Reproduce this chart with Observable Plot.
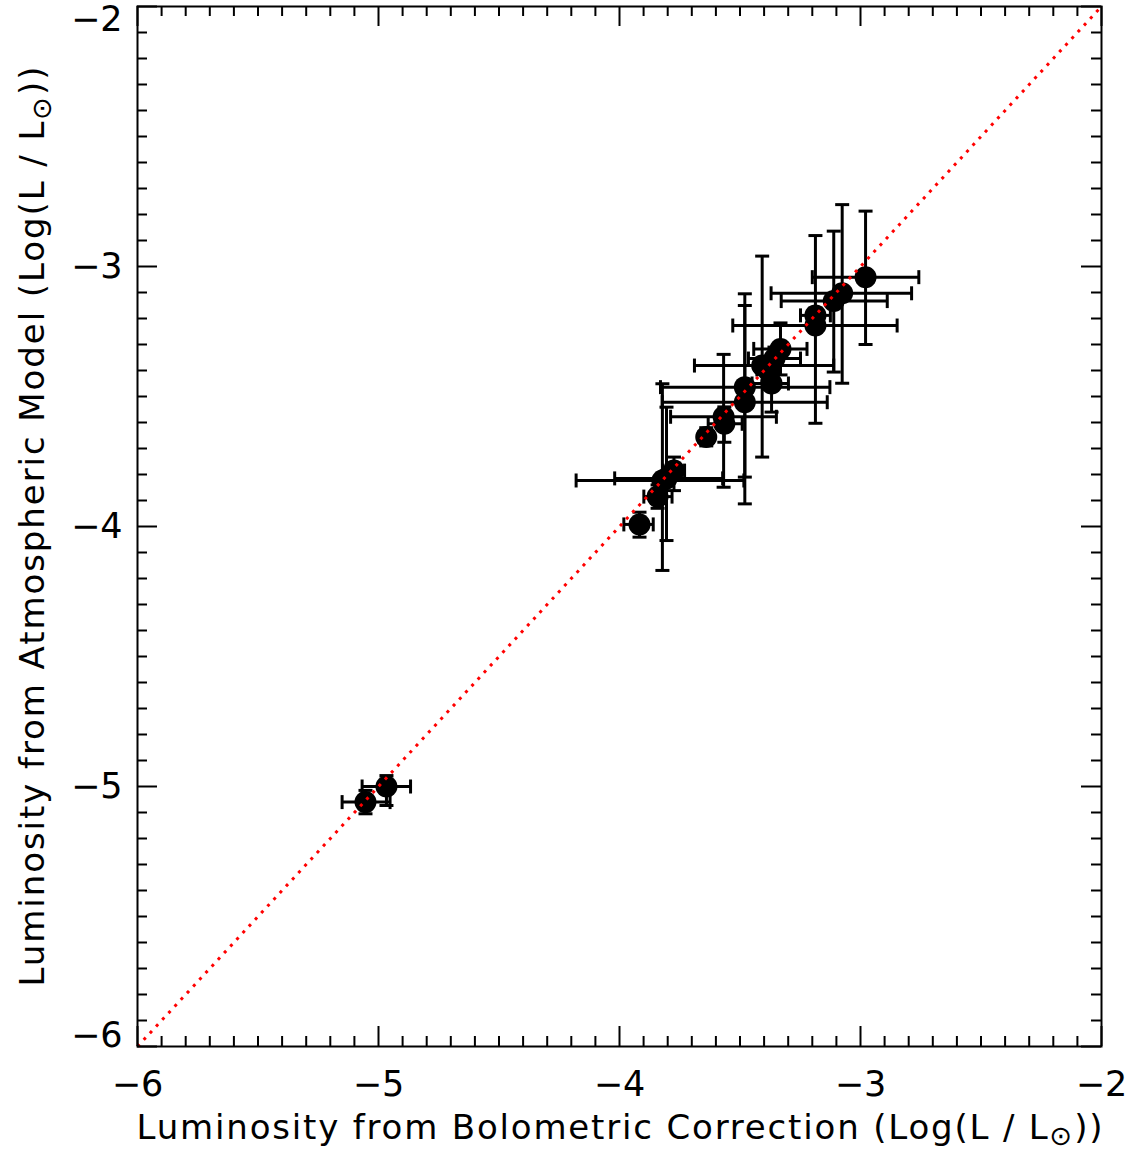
<!DOCTYPE html>
<html>
<head>
<meta charset="utf-8">
<script src="https://cdn.jsdelivr.net/npm/d3@7"></script>
<script src="https://cdn.jsdelivr.net/npm/@observablehq/plot@0.6"></script>
<style>
  html, body { margin: 0; padding: 0; background: #fff; }
  #chart svg { display: block; }
</style>
</head>
<body>
<div id="chart"></div>
<script>
// Luminosity from bolometric correction (x) and from atmospheric model (y), log(L/Lsun)
const bcLum  = [-2.979, -3.076, -3.111, -3.187, -3.187, -3.332, -3.357, -3.386, -3.408, -3.369, -3.480, -3.480, -3.568, -3.565, -3.640, -3.774, -3.822, -3.805, -3.842, -3.917, -4.967, -5.054];
const bcLo   = [-3.200, -3.371, -3.329, -3.249, -3.530, -3.443, -3.465, -3.430, -3.689, -3.450, -3.830, -3.823, -3.788, -3.632, -3.670, -3.820, -4.180, -4.020, -3.899, -3.982, -5.068, -5.151];
const bcHi   = [-2.758, -2.788, -2.889, -3.125, -2.848, -3.222, -3.249, -3.340, -3.111, -3.299, -3.127, -3.138, -3.349, -3.491, -3.610, -3.730, -3.484, -3.572, -3.782, -3.860, -4.867, -4.952];
const atmLum = [-3.041, -3.103, -3.133, -3.188, -3.227, -3.317, -3.354, -3.396, -3.381, -3.450, -3.464, -3.522, -3.578, -3.605, -3.656, -3.785, -3.823, -3.815, -3.885, -3.992, -5.000, -5.060];
const atmLo  = [-3.300, -3.449, -3.406, -3.220, -3.603, -3.417, -3.400, -3.440, -3.733, -3.560, -3.913, -3.810, -3.849, -3.676, -3.690, -3.862, -4.169, -4.054, -3.930, -4.041, -5.073, -5.105];
const atmHi  = [-2.787, -2.762, -2.864, -3.160, -2.881, -3.217, -3.310, -3.350, -2.960, -3.400, -3.105, -3.150, -3.338, -3.540, -3.620, -3.733, -3.451, -3.541, -3.840, -3.945, -4.958, -5.015];

const majorTicks = [-6, -5, -4, -3, -2];
const minorTicks = d3.range(-60, -19).map(v => v / 10).filter(v => !majorTicks.includes(v));
const diagonal = [-6, -2];

const xTitle = "Luminosity from Bolometric Correction (Log(L / L⊙))";
const yTitle = "Luminosity from Atmospheric Model (Log(L / L⊙))";

const rows = bcLum.map((x, i) => ({x, xlo: bcLo[i], xhi: bcHi[i], y: atmLum[i], ylo: atmLo[i], yhi: atmHi[i]}));

const W = 1137, H = 1159, mL = 137, mR = 36, mT = 6, mB = 113;
const iW = W - mL - mR, iH = H - mT - mB;
const majLen = 20, minLen = 10;

const hcap = {draw(ctx, size) { const h = Math.sqrt(size / Math.PI); ctx.moveTo(-h, 0); ctx.lineTo(h, 0); }};
const vcap = {draw(ctx, size) { const h = Math.sqrt(size / Math.PI); ctx.moveTo(0, -h); ctx.lineTo(0, h); }};
const fmt = d => (d < 0 ? "\u2212" : "") + Math.abs(d);
const tickStyle = {stroke: "black", strokeWidth: 2};

const chart = Plot.plot({
  width: W, height: H,
  marginLeft: mL, marginRight: mR, marginTop: mT, marginBottom: mB,
  style: {fontFamily: "DejaVu Sans", background: "white", color: "black"},
  x: {domain: [-6, -2], label: null},
  y: {domain: [-6, -2], label: null},
  marks: [
    // error bars
    Plot.ruleY(rows, {y: "y", x1: "xlo", x2: "xhi", stroke: "black", strokeWidth: 3}),
    Plot.ruleX(rows, {x: "x", y1: "ylo", y2: "yhi", stroke: "black", strokeWidth: 3}),
    Plot.dot(rows, {x: "xlo", y: "y", symbol: vcap, r: 7, fill: "none", stroke: "black", strokeWidth: 3}),
    Plot.dot(rows, {x: "xhi", y: "y", symbol: vcap, r: 7, fill: "none", stroke: "black", strokeWidth: 3}),
    Plot.dot(rows, {x: "x", y: "ylo", symbol: hcap, r: 7, fill: "none", stroke: "black", strokeWidth: 3}),
    Plot.dot(rows, {x: "x", y: "yhi", symbol: hcap, r: 7, fill: "none", stroke: "black", strokeWidth: 3}),
    // points
    Plot.dot(rows, {x: "x", y: "y", r: 11, fill: "black", stroke: "none"}),
    // one-to-one line
    Plot.line(diagonal, {x: d => d, y: d => d, stroke: "red", strokeWidth: 3, strokeDasharray: "3,6.1", strokeLinecap: "butt"}),
    // frame and inward ticks on all sides
    Plot.frame({stroke: "black", strokeWidth: 2}),
    Plot.ruleX(majorTicks, {...tickStyle, insetTop: iH - majLen}),
    Plot.ruleX(majorTicks, {...tickStyle, insetBottom: iH - majLen}),
    Plot.ruleX(minorTicks, {...tickStyle, insetTop: iH - minLen}),
    Plot.ruleX(minorTicks, {...tickStyle, insetBottom: iH - minLen}),
    Plot.ruleY(majorTicks, {...tickStyle, insetRight: iW - majLen}),
    Plot.ruleY(majorTicks, {...tickStyle, insetLeft: iW - majLen}),
    Plot.ruleY(minorTicks, {...tickStyle, insetRight: iW - minLen}),
    Plot.ruleY(minorTicks, {...tickStyle, insetLeft: iW - minLen}),
    // tick labels
    Plot.axisX({anchor: "bottom", ticks: majorTicks, tickSize: 0, tickPadding: 25, fontSize: 35, tickFormat: fmt, label: null}),
    Plot.axisY({anchor: "left", ticks: [-5, -4, -3], tickSize: 0, tickPadding: 15, fontSize: 35, tickFormat: fmt, label: null}),
    Plot.axisY({anchor: "left", ticks: [-2], tickSize: 0, tickPadding: 15, fontSize: 35, tickFormat: fmt, label: null, dy: 13}),
    Plot.axisY({anchor: "left", ticks: [-6], tickSize: 0, tickPadding: 15, fontSize: 35, tickFormat: fmt, label: null, dy: -11}),
    // axis titles
    Plot.text([xTitle], {frameAnchor: "bottom", dy: 92, fontSize: 34, textAnchor: "middle", text: d => d, fill: "black"}),
    Plot.text([yTitle], {frameAnchor: "left", dx: -104, rotate: -90, fontSize: 34, textAnchor: "middle", text: d => d, fill: "black"})
  ]
});

// subscript the solar symbol in the axis titles and stretch spacing like the original font
d3.select(chart).selectAll("text").each(function() {
  const t = this.textContent;
  if (t.includes("⊙") && this.querySelectorAll("tspan").length === 0) {
    const isY = t.includes("Atmospheric");
    const [a, b] = t.split("⊙");
    const sel = d3.select(this);
    sel.text(null);
    sel.append("tspan").text(a);
    sel.append("tspan").attr("dy", "0.25em").attr("font-size", "0.8em").text("⊙");
    sel.append("tspan").attr("dy", "-0.2em").text(b);
    sel.attr("textLength", isY ? 920 : 966).attr("lengthAdjust", "spacing");
  }
});

document.getElementById("chart").appendChild(chart);
</script>
</body>
</html>
